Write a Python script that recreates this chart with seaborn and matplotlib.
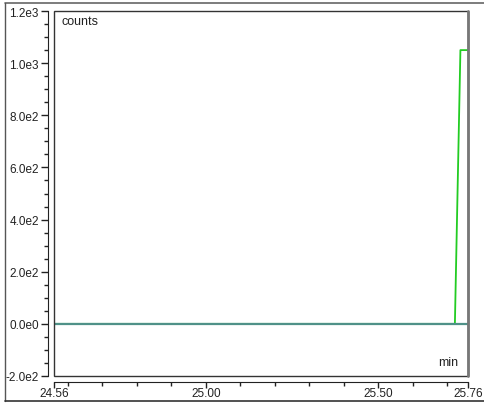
import numpy as np
import pandas as pd
import matplotlib
matplotlib.use("Agg")
import matplotlib.pyplot as plt
from matplotlib.patches import Rectangle
from matplotlib.lines import Line2D
import seaborn as sns

# ---- data ----
baseline_time = [24.56, 25.76]
baseline_counts = [0, 0]
signal_time = [24.56, 25.722, 25.738, 25.76]
signal_counts = [0, 0, 1050, 1050]

x_major = [24.56, 25.00, 25.50, 25.76]
x_major_labels = ["24.56", "25.00", "25.50", "25.76"]
x_minor = [24.6, 24.7, 24.8, 24.9, 25.1, 25.2, 25.3, 25.4, 25.6, 25.7]
y_major = [-200, 0, 200, 400, 600, 800, 1000, 1200]
y_major_labels = ["-2.0e2", "0.0e0", "2.0e2", "4.0e2", "6.0e2", "8.0e2", "1.0e3", "1.2e3"]
y_minor = [v for v in range(-200, 1201, 50) if v % 200 != 0]

sns.set_style("ticks")
plt.rcParams['font.family'] = ['Liberation Sans', 'DejaVu Sans']

W, H = 485, 406
fig = plt.figure(figsize=(W / 100, H / 100), dpi=100)
fig.patch.set_facecolor("white")

L, R, T, B = 54, 468, 12, 377
ax = fig.add_axes([L / W, 1 - B / H, (R - L) / W, (B - T) / H])

sig = pd.DataFrame({"time": signal_time, "counts": signal_counts})
base = pd.DataFrame({"time": baseline_time, "counts": baseline_counts})
sns.lineplot(data=sig, x="time", y="counts", ax=ax, color="#22cc22", lw=1.3,
             estimator=None, sort=False)
sns.lineplot(data=base, x="time", y="counts", ax=ax, color="#4f9188", lw=1.6,
             estimator=None, sort=False)

ax.set_xlim(24.56, 25.76)
ax.set_ylim(-200, 1200)
ax.set_xlabel("")
ax.set_ylabel("")

ax.set_xticks(x_major)
ax.set_xticklabels(x_major_labels)
ax.set_xticks(x_minor, minor=True)
ax.set_yticks(y_major)
ax.set_yticklabels(y_major_labels)
ax.set_yticks(y_minor, minor=True)

ax.tick_params(axis="both", which="major", length=5, width=1, color="#222222",
               labelsize=8.5, labelcolor="#222222", pad=2)
ax.tick_params(axis="x", which="major", length=4, pad=0)
ax.tick_params(axis="both", which="minor", length=3, width=1, color="#222222")

for s in ["top", "right"]:
    ax.spines[s].set_visible(False)
ax.spines["left"].set_position(("outward", 4))
ax.spines["bottom"].set_position(("outward", 4))
ax.spines["left"].set_color("#222222")
ax.spines["bottom"].set_color("#222222")

# plot box
ax.add_patch(Rectangle((0, 0), 1, 1, transform=ax.transAxes, fill=False,
                       edgecolor="#333333", lw=1.0, clip_on=False, zorder=5))
ax.add_line(Line2D([1, 1], [0, 1], transform=ax.transAxes, color="#777777",
                   lw=2.0, clip_on=False, zorder=6))

ax.text(8 / (R - L), 1 - 10 / (B - T), "counts", transform=ax.transAxes,
        fontsize=9, ha="left", va="center", color="#222222")
ax.text(1 - 10 / (R - L), 8 / (B - T), "min", transform=ax.transAxes,
        fontsize=9, ha="right", va="bottom", color="#222222")

# outer frame
fig.add_artist(Line2D([5 / W, 1], [1 - 3.5 / H, 1 - 3.5 / H], transform=fig.transFigure,
                      color="#666666", lw=1.2))
fig.add_artist(Line2D([5 / W, 5 / W], [1 - 3.5 / H, 1 - 402 / H], transform=fig.transFigure,
                      color="#555555", lw=1.0))
fig.add_artist(Line2D([5 / W, 1], [1 - 402 / H, 1 - 402 / H], transform=fig.transFigure,
                      color="#333333", lw=1.2))

fig.savefig("out.png", dpi=100, facecolor="white")
